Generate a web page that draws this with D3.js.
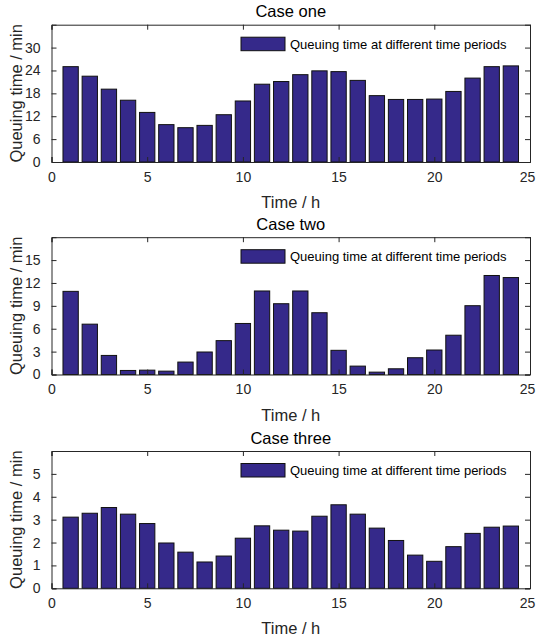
<!DOCTYPE html>
<html>
<head>
<meta charset="utf-8">
<script src="https://cdn.jsdelivr.net/npm/d3@7"></script>
<style>
  html, body { margin: 0; padding: 0; background: #fff; }
  svg { display: block; font-family: "Liberation Sans", Arial, Helvetica, sans-serif; }
</style>
</head>
<body>
<svg id="chart" width="536" height="640"></svg>
<script>
// Hour of day (1..24)
const hours = d3.range(1, 25);

// Queuing time (min) per hour for each case
const caseOne = [25.0, 22.5, 19.1, 16.2, 13.0, 9.8, 9.0, 9.6, 12.4, 16.0, 20.4, 21.1,
                 22.9, 23.9, 23.7, 21.4, 17.4, 16.4, 16.4, 16.5, 18.5, 22.0, 25.0, 25.2];
const caseTwo = [10.9, 6.6, 2.5, 0.53, 0.57, 0.44, 1.63, 2.95, 4.44, 6.69, 10.95, 9.28,
                 10.95, 8.1, 3.17, 1.1, 0.31, 0.75, 2.2, 3.21, 5.15, 9.02, 12.98, 12.71];
const caseThree = [3.11, 3.28, 3.53, 3.24, 2.83, 1.98, 1.58, 1.15, 1.41, 2.19, 2.73, 2.54,
                   2.50, 3.15, 3.65, 3.24, 2.63, 2.09, 1.45, 1.18, 1.82, 2.40, 2.67, 2.72];

const titles = ["Case one", "Case two", "Case three"];
const yMaxes = [36, 18, 6];
const yTickValues = [[0, 6, 12, 18, 24, 30], [0, 3, 6, 9, 12, 15], [0, 1, 2, 3, 4, 5]];
const xTickValues = [0, 5, 10, 15, 20, 25];

const xLabel = "Time / h";
const yLabel = "Queuing time / min";
const legendLabel = "Queuing time at different time periods";

const series = [caseOne, caseTwo, caseThree];

const svg = d3.select("#chart");
const left = 51.5, right = 530;
const tops = [24.7, 237.2, 451];
const plotH = 137.3;
const axisColor = "#262626";
const barFill = "#35298a";
const tickLen = 5;

const x = d3.scaleLinear().domain([0, 25]).range([left, right]);
const barW = x(0.8) - x(0);

series.forEach((vals, i) => {
  const top = tops[i], bottom = top + plotH;
  const y = d3.scaleLinear().domain([0, yMaxes[i]]).range([bottom, top]);
  const g = svg.append("g");

  // white plot area
  g.append("rect").attr("x", left).attr("y", top)
    .attr("width", right - left).attr("height", plotH).attr("fill", "#fff");

  // bars
  g.append("g").selectAll("rect").data(vals).join("rect")
    .attr("x", (d, j) => x(hours[j]) - barW / 2)
    .attr("y", d => y(d))
    .attr("width", barW)
    .attr("height", d => bottom - y(d))
    .attr("fill", barFill)
    .attr("stroke", "#111")
    .attr("stroke-width", 1);

  // axes with inward ticks on all four sides
  const xAxisB = d3.axisBottom(x).tickValues(xTickValues).tickSize(-tickLen).tickPadding(10).tickFormat(d3.format("d"));
  const xAxisT = d3.axisTop(x).tickValues(xTickValues).tickSize(-tickLen).tickFormat("");
  const yAxisL = d3.axisLeft(y).tickValues(yTickValues[i]).tickSize(-tickLen).tickPadding(11).tickFormat(d3.format("d"));
  const yAxisR = d3.axisRight(y).tickValues(yTickValues[i]).tickSize(-tickLen).tickFormat("");

  const ax = [
    g.append("g").attr("transform", `translate(0,${bottom})`).call(xAxisB),
    g.append("g").attr("transform", `translate(0,${top})`).call(xAxisT),
    g.append("g").attr("transform", `translate(${left},0)`).call(yAxisL),
    g.append("g").attr("transform", `translate(${right},0)`).call(yAxisR)
  ];
  ax.forEach(a => {
    a.select(".domain").attr("stroke", axisColor).attr("stroke-width", 1);
    a.selectAll(".tick line").attr("stroke", axisColor);
    a.selectAll(".tick text").attr("fill", axisColor)
      .style("font-size", "14px").style("font-family", "'Liberation Sans', Arial, sans-serif");
  });
  // keep the last x tick label inside the page edge
  ax[0].selectAll(".tick text").filter(d => d === 25).attr("dx", -3);

  // title
  g.append("text").attr("x", (left + right) / 2).attr("y", top - 7.5)
    .attr("text-anchor", "middle").attr("fill", "#000")
    .style("font-size", "16.5px").text(titles[i]);

  // axis labels
  g.append("text").attr("x", (left + right) / 2).attr("y", bottom + 46)
    .attr("text-anchor", "middle").attr("fill", axisColor)
    .style("font-size", "16.5px").text(xLabel);
  g.append("text")
    .attr("transform", `translate(22,${(top + bottom) / 2}) rotate(-90)`)
    .attr("text-anchor", "middle").attr("fill", axisColor)
    .style("font-size", "16.5px").text(yLabel);

  // legend
  const lg = g.append("g").attr("transform", `translate(${right - 289},${top + 12.5})`);
  lg.append("rect").attr("x", 0).attr("y", 0).attr("width", 44).attr("height", 13.5)
    .attr("fill", barFill).attr("stroke", "#111").attr("stroke-width", 1);
  lg.append("text").attr("x", 49).attr("y", 11.5).attr("fill", "#000")
    .style("font-size", "13px").text(legendLabel);
});
</script>
</body>
</html>
